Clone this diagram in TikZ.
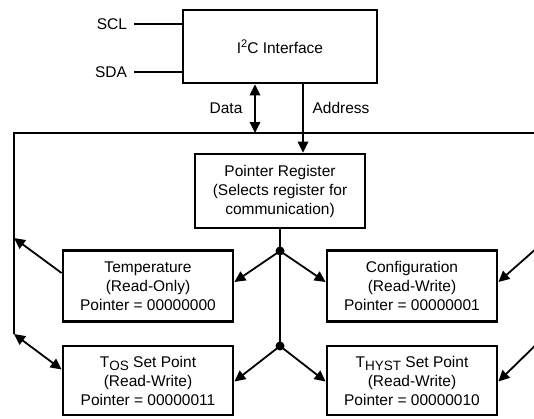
\documentclass[tikz,border=0pt]{standalone}
\usepackage{fontspec}
\setmainfont{Liberation Sans}
\usetikzlibrary{arrows.meta,calc}
\begin{document}
\begin{tikzpicture}[x=1pt,y=-1pt,
  every node/.style={font=\fontsize{15.5}{19}\selectfont},
  regbox/.style={draw, line width=2.8pt, align=center, inner sep=0pt,
    minimum width=170pt, minimum height=71pt},
  conn/.style={line width=1.8pt},
  arr/.style={conn, -{Triangle[length=11pt,width=10.5pt]}},
  darr/.style={conn, {Triangle[length=11pt,width=10.5pt]}-{Triangle[length=11pt,width=10.5pt]}},
  lbl/.style={inner sep=0pt},
  dot/.style={circle, fill, inner sep=0pt, minimum size=9pt}]
\useasboundingbox (0,0) rectangle (534,418);
\clip (0,0) rectangle (534,418);

% nodes
\node[regbox, minimum width=194pt, minimum height=73pt] (i2c) at (280,46.5)
  {I\raisebox{6.5pt}{\fontsize{11}{11}\selectfont 2}C Interface};
\node[regbox, minimum height=74pt] (ptr) at (280,191)
  {Pointer Register\\(Selects register for\\communication)};
\node[regbox] (temp) at (148,286) {Temperature\\(Read-Only)\\Pointer = 00000000};
\node[regbox] (cfg) at (412,286) {Configuration\\(Read-Write)\\Pointer = 00000001};
\node[regbox, minimum height=69pt] (tos) at (148,380.5)
  {T\raisebox{-3pt}{\fontsize{13.5}{13}\selectfont OS} Set Point\\(Read-Write)\\Pointer = 00000011};
\node[regbox, minimum height=69pt] (thyst) at (412,380.5)
  {T\raisebox{-3pt}{\fontsize{13.5}{13}\selectfont HYST} Set Point\\(Read-Write)\\Pointer = 00000010};

\node[lbl, anchor=east, outer xsep=7pt] (scl) at (134,24) {SCL};
\node[lbl, anchor=east, outer xsep=7pt] (sda) at (134,72) {SDA};
\node[lbl] (datal) at (226,108) {Data};
\node[lbl] (addrl) at (341,108) {Address};

\node[dot] (j1) at (280,251) {};
\node[dot] (j2) at (280,346) {};

% coordinates
\coordinate (bl) at (14,133);
\coordinate (blb) at (14,334);
\coordinate (br) at (546,133);
\coordinate (brb) at (546,335);
\coordinate (dbus) at (255,133);
\coordinate (ax) at (303,100);
\coordinate (tb) at (14,238);
\coordinate (cb) at (546,240);

% connectors
\draw[conn] (scl.east) -- (scl.east -| i2c.west);
\draw[conn] (sda.east) -- (sda.east -| i2c.west);
\draw[darr] (i2c.south -| dbus) -- (dbus);
\draw[arr] (i2c.south -| ax) -- (ptr.north -| ax);
\draw[conn] (blb) -- (bl) -- (br) -- (brb);
\draw[conn] (ptr.south -| j1) -- (j2.center);
\draw[arr] (j1.center) -- ([yshift=4pt]temp.east);
\draw[arr] (j1.center) -- ([yshift=4pt]cfg.west);
\draw[arr] (j2.center) -- ([yshift=-1pt]tos.east);
\draw[arr] (j2.center) -- ([yshift=-1pt]thyst.west);
\draw[arr] ([yshift=13pt]temp.west) -- (tb);
\draw[darr] (blb) -- ([yshift=11pt]tos.west);
\draw[darr] ([yshift=4pt]cfg.east) -- (cb);
\draw[darr] ([yshift=-1pt]thyst.east) -- (brb);
\end{tikzpicture}
\end{document}
